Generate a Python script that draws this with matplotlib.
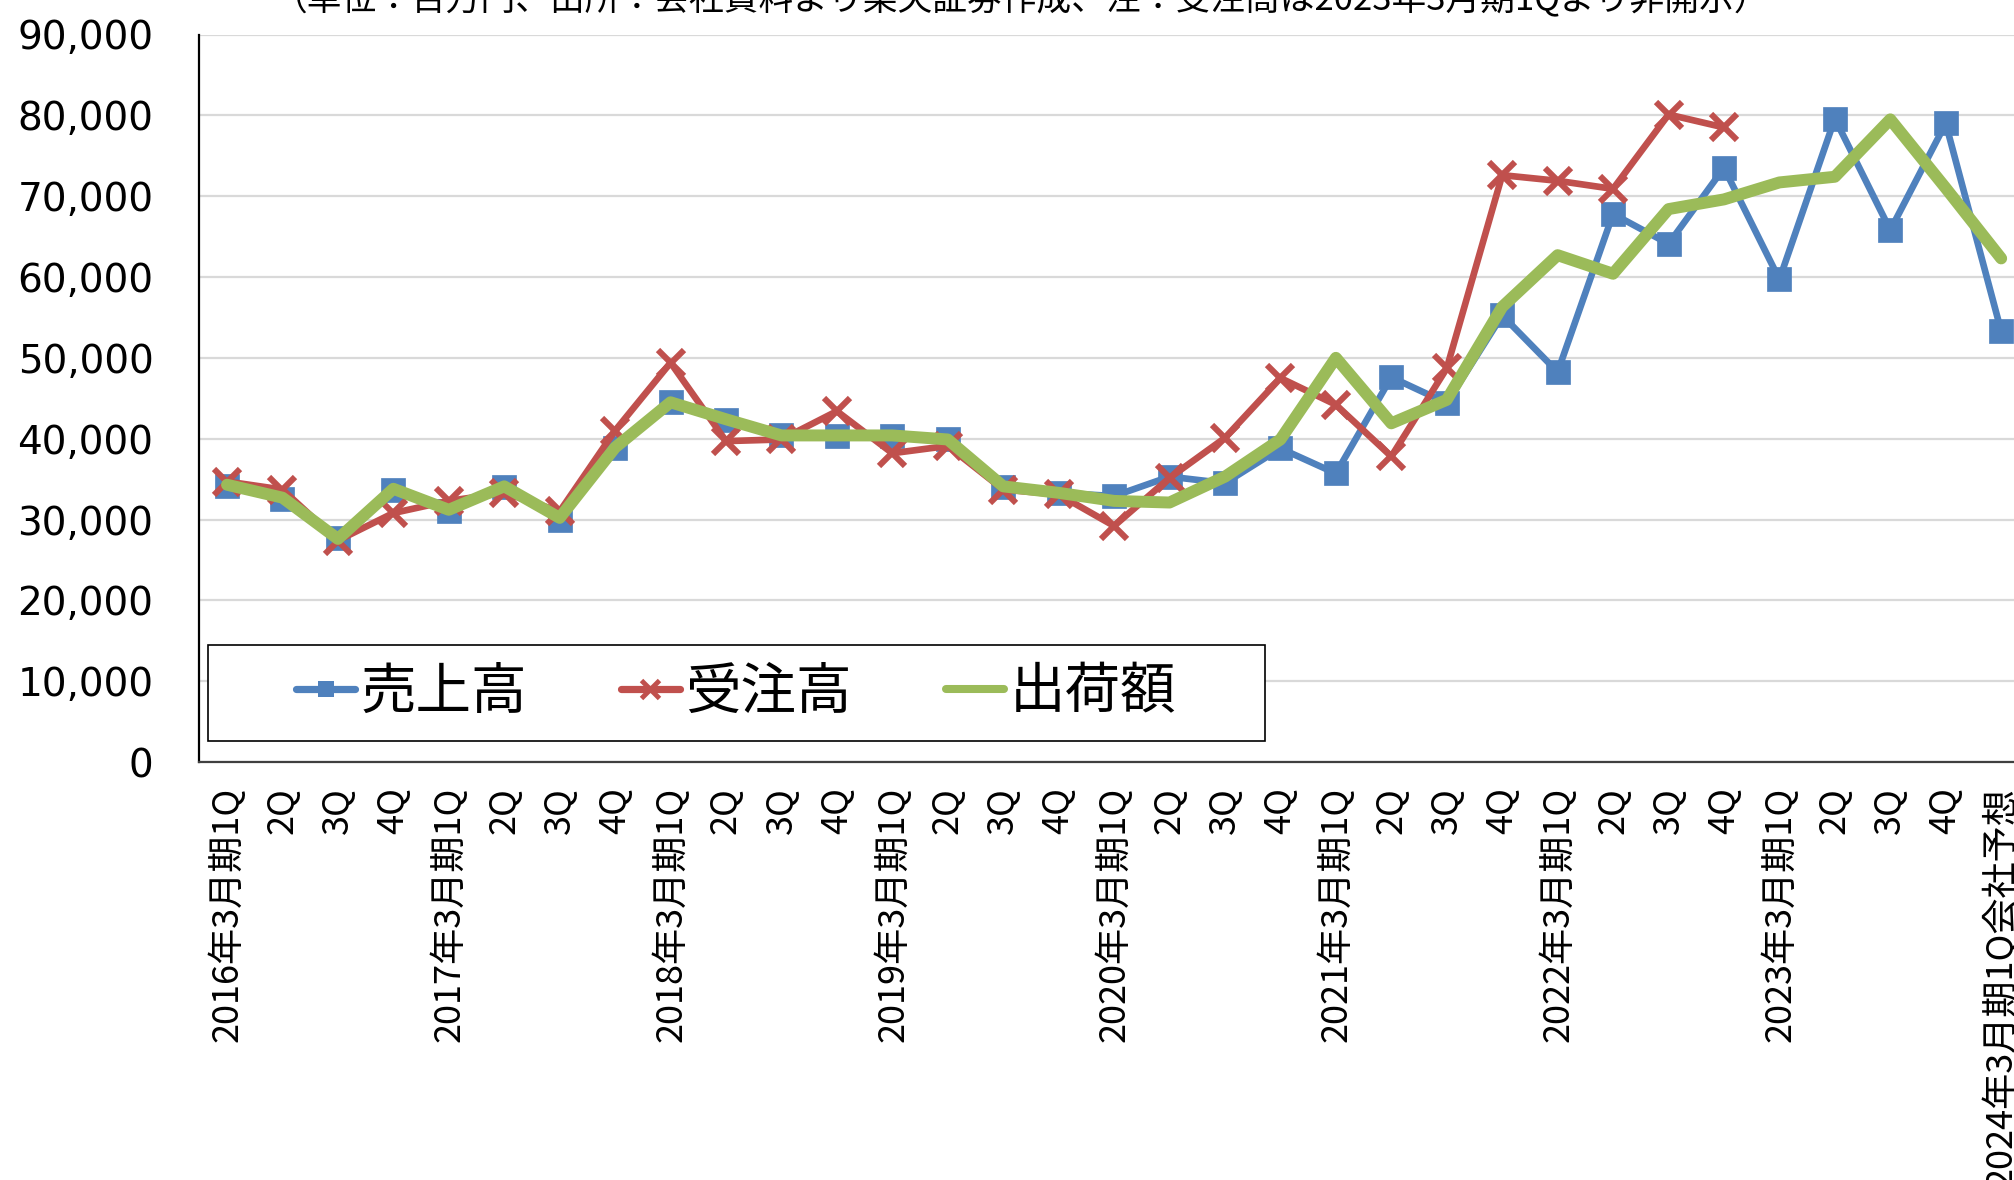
import matplotlib
matplotlib.use("Agg")
import matplotlib.pyplot as plt
from matplotlib.patches import Rectangle
from matplotlib.lines import Line2D
import numpy as np

plt.rcParams['font.family'] = ['Noto Sans CJK JP', 'DejaVu Sans']

title = "（単位：百万円、出所：会社資料より楽天証券作成、注：受注高は2023年3月期1Qより非開示）"

categories = []
for y in range(2016, 2024):
    categories += [f"{y}年3月期1Q", "2Q", "3Q", "4Q"]
categories.append("2024年3月期1Q会社予想")

sales = [34200, 32500, 27700, 33600, 31000, 34000, 30000, 38800,
         44500, 42300, 40500, 40300, 40300, 40000, 34000, 33300,
         32900, 35300, 34500, 38800, 35700, 47600, 44400, 55250,
         48250, 67800, 64100, 73500, 59700, 79600, 65800, 79000,
         53300]
orders = [34700, 33700, 27400, 30800, 32300, 33300, 31000, 41000,
          49400, 39700, 39900, 43400, 38200, 39100, 33700, 33100,
          29200, 35150, 40100, 47500, 44200, 37800, 48700, 72600,
          71900, 70900, 80100, 78500]
shipments = [34300, 32700, 27600, 33800, 31200, 34100, 30200, 38900,
             44500, 42400, 40400, 40400, 40400, 39900, 34100, 33300,
             32300, 32100, 35300, 39900, 50000, 41900, 44800, 56300,
             62700, 60400, 68400, 69600, 71700, 72400, 79500, 71000,
             62300]
series_names = ["売上高", "受注高", "出荷額"]
yticks = list(range(0, 90001, 10000))

blue = "#4F81BD"
red = "#C0504D"
green = "#9BBB59"

fig = plt.figure(figsize=(20.15, 11.80), dpi=100)
ax = fig.add_axes([199.3/2015, 1-762/1180, 1829.6/2015, (762-34.5)/1180])

x_s = np.arange(len(sales))
x_o = np.arange(len(orders))
x_g = np.arange(len(shipments))

ax.plot(x_s, sales, color=blue, lw=4.8, marker='s', markersize=17.5,
        markerfacecolor=blue, markeredgecolor=blue, markeredgewidth=0.5,
        solid_joinstyle='round', zorder=3)
ax.plot(x_o, orders, color=red, lw=4.8, marker='x', markersize=18.5,
        markeredgewidth=4.4, solid_joinstyle='round', zorder=4)
ax.plot(x_g, shipments, color=green, lw=8.6, solid_capstyle='round',
        solid_joinstyle='round', zorder=5)

ax.set_xlim(-0.5, len(categories) - 0.5)
ax.set_ylim(0, 90000)
ax.set_yticks(yticks)
ax.set_yticklabels([f"{v:,}" for v in yticks], fontfamily='DejaVu Sans', fontsize=28)
ax.set_xticks(np.arange(len(categories)))
ax.set_xticklabels(categories, rotation=90, ha='center', va='top', fontsize=26)
ax.tick_params(axis='y', length=0, pad=33)
ax.tick_params(axis='x', length=0, pad=18)

ax.grid(axis='y', color='#D9D9D9', lw=1.6, zorder=0)
ax.set_axisbelow(True)
for s in ['top', 'right']:
    ax.spines[s].set_visible(False)
ax.spines['left'].set_color('black')
ax.spines['left'].set_linewidth(1.6)
ax.spines['bottom'].set_color('#404040')
ax.spines['bottom'].set_linewidth(1.6)

# legend
handles = [
    Line2D([], [], color=blue, lw=5.2, solid_capstyle='round', marker='s',
           markersize=12, markeredgewidth=0),
    Line2D([], [], color=red, lw=5.2, solid_capstyle='round', marker='x',
           markersize=13, markeredgewidth=3.5),
    Line2D([], [], color=green, lw=5.8, solid_capstyle='round'),
]
lx0, lx1, ly0, ly1 = 208, 1265, 645, 741
fig.patches.append(Rectangle((lx0/2015, 1-ly1/1180), (lx1-lx0)/2015, (ly1-ly0)/1180,
                             transform=fig.transFigure, fill=True, facecolor='white',
                             edgecolor='black', lw=1.2, zorder=10))
leg = fig.legend(handles, series_names, loc='center',
                 bbox_to_anchor=((lx0+lx1)/2/2015, 1-(ly0+ly1)/2/1180),
                 ncol=3, frameon=False, fontsize=40, handlelength=1.05,
                 handletextpad=0.1, columnspacing=1.7)
leg.set_zorder(11)

fig.text(0.507, 0.9995, title, ha='center', va='center', fontsize=25)

fig.savefig("out.png", dpi=100)
